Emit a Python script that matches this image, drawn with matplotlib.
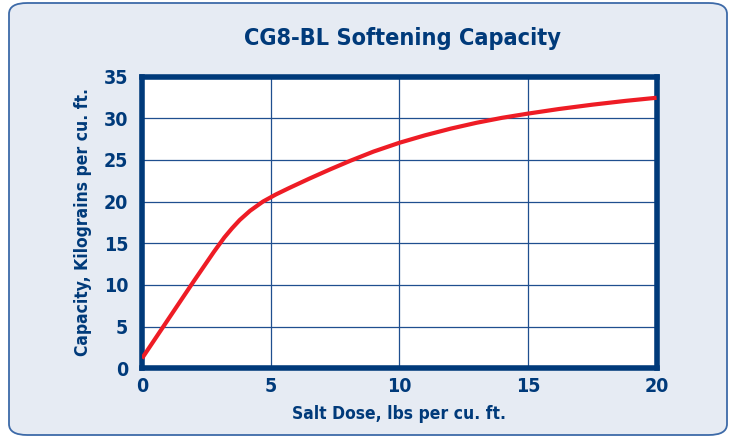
import matplotlib
matplotlib.use("Agg")
import matplotlib.pyplot as plt
from matplotlib.patches import FancyBboxPatch

# Data
salt_dose = [0, 1.0, 2.0, 2.8, 3.2, 3.5, 3.8, 4.2, 4.7, 5.2, 5.7, 6.5, 7.3, 8.1, 9.0,
             10, 11, 12, 13, 14, 15, 16.2, 17.5, 18.8, 20]
capacity = [1.2, 5.8, 10.4, 14.0, 15.7, 16.8, 17.8, 18.9, 20.0, 20.85, 21.6, 22.75, 23.85, 24.9, 26.0,
            27.05, 27.95, 28.75, 29.45, 30.05, 30.55, 31.1, 31.62, 32.08, 32.45]
x_ticks = [0, 5, 10, 15, 20]
y_ticks = [0, 5, 10, 15, 20, 25, 30, 35]

title = "CG8-BL Softening Capacity"
xlabel = "Salt Dose, lbs per cu. ft."
ylabel = "Capacity, Kilograins per cu. ft."

NAVY = "#003a7a"
FONT = ["DejaVu Sans"]
STRETCH = "condensed"

fig = plt.figure(figsize=(7.33, 4.38), dpi=100)
fig.patch.set_facecolor("white")

# Rounded background panel
W, H = 733, 438
panel = FancyBboxPatch((9 / W, 3 / H), 718 / W, 432 / H,
                       boxstyle="round,pad=0,rounding_size=0.025",
                       transform=fig.transFigure, facecolor="#e6ebf3",
                       edgecolor="#3d6aa8", linewidth=1.3, zorder=-10)
fig.patches.append(panel)

ax = fig.add_axes([142 / W, 1 - 368.4 / H, (656.6 - 142) / W, (368.4 - 76.5) / H])
ax.set_zorder(5)
ax.set_facecolor("white")
ax.plot(salt_dose, capacity, color="#ee1c25", lw=3.0, solid_capstyle="butt",
        solid_joinstyle="round", zorder=3)

ax.set_xlim(0, 20)
ax.set_ylim(0, 35)
ax.set_xticks(x_ticks)
ax.set_yticks(y_ticks)
ax.grid(True, color="#1f4f8f", lw=0.9)
ax.set_axisbelow(True)
for s in ax.spines.values():
    s.set_color(NAVY)
    s.set_linewidth(4.0)
ax.tick_params(length=0, labelcolor=NAVY, labelsize=14)
ax.tick_params(axis="x", pad=6)
ax.tick_params(axis="y", pad=10)
for lab in ax.get_xticklabels() + ax.get_yticklabels():
    lab.set_family(FONT)
    lab.set_fontweight("bold")
    lab.set_fontstretch(STRETCH)

ax.set_xlabel(xlabel, family=FONT, fontweight="bold", fontstretch=STRETCH,
              fontsize=12.5, color=NAVY, labelpad=7)
ax.set_ylabel(ylabel, family=FONT, fontweight="bold", fontstretch=STRETCH,
              fontsize=12.5, color=NAVY, labelpad=8)

fig.text(403 / W, 1 - 38 / H, title, family=FONT, fontweight="bold", fontstretch=STRETCH,
         fontsize=16.8, color=NAVY, ha="center", va="center")

fig.savefig("out.png", dpi=100)
